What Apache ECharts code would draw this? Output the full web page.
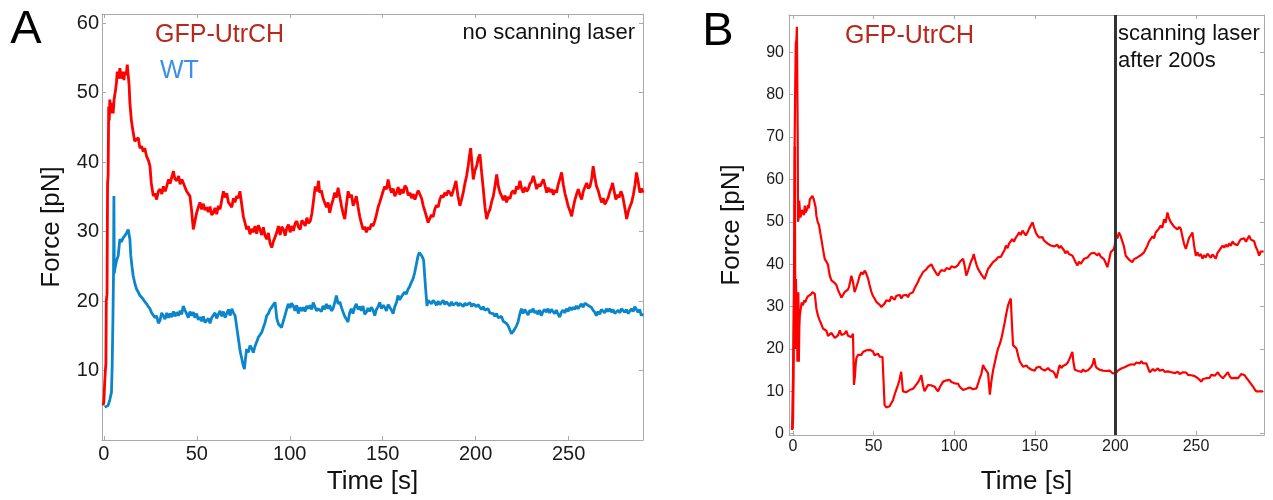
<!DOCTYPE html>
<html>
<head>
<meta charset="utf-8">
<script src="https://cdn.jsdelivr.net/npm/echarts@6/dist/echarts.min.js"></script>
<style>
html,body{margin:0;padding:0;background:#fff;}
#chart{width:1273px;height:500px;}
</style>
</head>
<body>
<div id="chart"></div>
<script>
// ---------- DATA ----------
const xTicksA = [0, 50, 100, 150, 200, 250];
const yTicksA = [10, 20, 30, 40, 50, 60];
const xTicksB = [0, 50, 100, 150, 200, 250];
const yTicksB = [0, 10, 20, 30, 40, 50, 60, 70, 80, 90];
const laserOnTime = 200;

// Panel A, GFP-UtrCH (red): [time s, force pN]
const redA = [[-0.4,5],[0,5.5],[0.4,8],[0.8,10],[1.1,11],[1.3,20],[1.7,21],[2.0,37],[2.3,38],[2.6,48],[2.9,46],[3.2,49],[3.6,47],[4.0,48.5],[4.4,48],[5.0,47],[5.5,49],[6.3,50.4],[6.8,51.5],[7.2,53],[8.0,52],[8.6,53.5],[9.5,52],[10.2,53],[10.8,51.8],[11.3,53],[12.0,52.5],[12.6,54],[13.1,54.2],[13.6,51],[14,48.5],[14.8,46],[15.8,44.2],[16.6,43],[17.6,42.8],[18.5,43.5],[19.4,42],[20.3,42.3],[21.2,41.5],[22,42],[23,40.8],[24,40.2],[24.8,39.4],[25.5,37],[26.6,35.1],[27.4,35.5],[28.4,34.6],[29.3,35.8],[30.2,36.1],[31.2,35.4],[32,36.5],[33,35.8],[33.8,36.5],[34.8,37.5],[35.6,36.9],[36.5,37.8],[37.4,38.7],[38.2,37.6],[39.2,37.3],[40.2,38],[41,36.8],[42,37.5],[42.7,37.3],[43.6,36.4],[44.5,35.8],[45.5,36],[46.3,35.1],[47.2,33],[48.1,30.3],[49,31.5],[49.9,32.7],[50.8,33.5],[51.7,34.2],[52.6,33.2],[53.5,34],[54.4,33.1],[55.3,33.5],[56.2,32.8],[57.1,33.6],[58,32.4],[58.9,32.7],[59.8,33.4],[60.7,32.5],[61.6,33.7],[62.5,33.2],[63.4,34.5],[64.3,35.8],[65.2,34.9],[66.1,35.5],[67,34.2],[67.9,34.4],[68.8,33.5],[69.7,34.8],[70.5,34.2],[71.4,35.1],[72.3,34.8],[73.2,35.8],[74.1,34],[75,32.2],[75.9,31.3],[76.8,30.3],[77.7,30.8],[78.6,29.6],[79.5,30.4],[80.4,29.9],[81.3,30.8],[82.2,29.7],[83.1,30.9],[84,30.3],[84.9,29.5],[85.8,30.6],[86.7,29.4],[87.6,28.9],[88.5,29.8],[89.4,28.3],[90.3,27.7],[91.2,28.6],[92.1,29.2],[93,29.9],[93.9,30.8],[94.8,29.5],[95.7,30.7],[96.6,30.3],[97.5,29.4],[98.4,30.5],[99.3,31],[100.2,29.9],[101.1,30.8],[102,30.1],[102.9,31.2],[103.8,31.5],[104.7,30.6],[105.6,30.3],[106.5,31.6],[107.4,31.3],[108.3,30.8],[109.2,32],[110.1,31.2],[111,31.5],[111.9,32.6],[112.8,34.5],[113.7,36.5],[114.6,35.8],[115.5,37.3],[116.1,35.6],[117,35.9],[117.9,34.8],[118.8,34.6],[119.7,33.5],[120.6,34.2],[121.5,32.7],[122.4,33.8],[123.3,34.6],[124.2,35.6],[125.1,34.9],[126,36.3],[126.9,35],[127.8,33.7],[128.7,32.6],[129.6,31.8],[130.5,33.9],[131.4,35.8],[132.3,34.9],[133.2,35.3],[134.1,33.7],[135,34.4],[135.8,35.1],[136.7,33.6],[137.6,32.2],[138.5,31.2],[139.4,30.3],[140.3,30.7],[141.2,29.9],[142.1,30.6],[143,30.3],[143.9,31.1],[144.8,30.8],[145.7,31.5],[146.6,32.4],[147.5,33.5],[148.4,34.2],[149.3,35],[150.2,35.8],[151.1,36.5],[152,36.1],[152.9,37.5],[153.8,36.3],[154.7,35.6],[155.6,36.2],[156.5,35.1],[157.4,35.6],[158.3,36.4],[159.2,35.3],[160.1,36.1],[161,35.5],[161.9,36.6],[162.8,36.3],[163.7,35.2],[164.6,35.6],[165.5,34.8],[166.4,35.4],[167.3,34.6],[168.2,35.3],[169.1,35.9],[170,36.1],[170.9,34.8],[171.8,33.7],[172.6,33],[173.5,32.2],[174.4,31.3],[175.3,31.5],[176.2,32.4],[177.1,32.1],[178,33.2],[178.9,33.8],[179.8,33.5],[180.7,34.6],[181.6,35.2],[182.5,34.9],[183.4,35.6],[184.3,35.2],[185.2,35.9],[186.1,35.6],[187,35.1],[187.9,34.9],[188.6,36.5],[189.4,37.3],[190.4,35.2],[191.5,33.7],[192.4,34.6],[193.3,35.6],[194.2,36.9],[195.1,38],[196,39.5],[196.7,41],[197.3,42],[198,39.8],[198.7,37.5],[199.6,38.8],[200.5,39.4],[201.4,40.6],[202.3,41.1],[203.2,38.5],[204.1,36.1],[205,33.5],[205.9,31.8],[206.8,32.7],[207.7,33.2],[208.6,34.3],[209.5,35.1],[210.4,36.6],[211.3,38.2],[212.2,36.5],[213.1,35.6],[214,35.1],[214.9,34.5],[215.8,35.2],[216.6,34.2],[217.5,35],[218.4,34.7],[219.3,35.6],[220.2,35.9],[221.1,35.4],[222,36.5],[222.9,36.1],[223.8,37.3],[224.7,36.2],[225.6,35.6],[226.5,36.4],[227.4,35.8],[228.3,36.1],[229.2,36.9],[230.1,37.2],[231,38],[231.9,37.1],[232.8,36.1],[233.7,36.8],[234.6,36.5],[235.5,37],[236.4,37.5],[237.3,36.6],[238.2,35.6],[239.1,36.3],[240,35.7],[240.9,36.1],[241.8,35.3],[242.7,36],[243.5,35.6],[244.4,36.8],[245.3,37.6],[246.2,38.5],[247.1,36.8],[248,35.5],[248.9,34.6],[249.8,33.6],[250.7,33],[251.6,32.2],[252.5,33.5],[253.4,34.6],[254.3,35.4],[255.2,36.1],[256.1,35.2],[257,34.6],[257.9,35.8],[258.8,36.4],[259.7,37],[260.6,36.2],[261.5,36.5],[262.4,37.6],[263.2,39.4],[264.1,37.8],[265,36.5],[265.9,35.9],[266.8,35],[267.7,34.2],[268.6,34.8],[269.5,33.9],[270.4,33.7],[271.3,34.9],[272.2,35.8],[273.1,36.4],[273.6,37],[274.5,35.8],[275.4,34.6],[276.3,35.3],[277.2,34.9],[278.1,35.8],[279,35.2],[279.9,33.9],[280.8,32.5],[281.2,31.8],[282.1,32.9],[283,33.6],[283.9,34.2],[284.8,35.3],[285.7,36.7],[286.5,38.5],[287.4,37.2],[288.3,35.6],[289.2,36.2],[290,35.6]];

// Panel A, WT (blue)
const blueA = [[0.5,4.7],[1.2,4.5],[2.3,5],[3.2,5.8],[4.1,6.9],[4.5,11],[4.9,17.9],[5.2,24],[5.4,35.1],[5.6,24],[5.9,24.6],[6.8,25.8],[7.7,26.5],[8.6,28.9],[9.4,28.5],[10.4,29.1],[11.3,29.4],[12.2,29.8],[13.1,30.3],[14,28.9],[14.5,26.5],[15.2,24.8],[15.8,23.6],[16.7,22.5],[17.6,21.7],[18.5,21.3],[19.4,20.8],[20.3,20.9],[21.1,20.3],[22,19.9],[23,19.6],[23.9,19.2],[24.8,18.9],[25.7,18.3],[26.6,18.4],[27.5,17.6],[28.4,17.9],[29.3,16.8],[30.2,17.2],[31.1,18.3],[32,17.9],[32.9,17.4],[33.8,18.3],[34.7,17.6],[35.6,18.2],[36.5,17.7],[37.4,18.5],[38.3,17.8],[39.2,18.4],[40.1,17.9],[41,18.6],[41.9,18.1],[42.7,19.3],[43.6,18.7],[44.5,18.2],[45.4,17.6],[46.3,18.5],[47.2,17.9],[48.1,18.4],[49,17.6],[49.9,18.2],[50.8,17.3],[51.7,17.7],[52.6,17.1],[53.5,17.8],[54.4,16.9],[55.3,16.7],[56.2,17.5],[57.1,16.8],[58,17.6],[58.9,17.4],[59.8,18.3],[60.7,17.5],[61.6,18.1],[62.5,18.6],[63.4,17.8],[64.3,18.5],[65.2,17.6],[66.1,18.2],[67,18.8],[67.9,17.9],[68.8,18.9],[69.7,18.3],[70.6,17.9],[71.5,16.2],[72.4,14.5],[73.3,12.8],[74.2,11.7],[74.9,10.8],[75.6,10.2],[76.2,11.8],[76.8,13.1],[77.7,12.6],[78.6,13.6],[79.5,13.2],[80.4,12.6],[81.3,13.5],[82.2,14.1],[83.1,14.8],[84,14.6],[84.9,15.5],[85.8,16.2],[86.7,16.9],[87.6,17.9],[88.5,18.2],[89.4,18.8],[90.3,19.1],[91.2,19.5],[92.1,19.8],[93,17.5],[93.9,16.7],[94.8,16.9],[95.6,16.2],[96.5,17.1],[97.4,17.9],[98.3,18.8],[99.2,19.6],[100.1,19],[101,19.7],[101.9,19.3],[102.8,18.6],[103.7,19.4],[104.6,18.2],[105.5,19.1],[106.4,18.6],[107.3,19.1],[108.2,18.5],[109.1,19.3],[110,18.9],[110.9,19.4],[111.8,18.8],[112.6,19.8],[113.5,19.2],[114.4,18.6],[115.3,18.9],[116.1,19.1],[117,18.5],[117.9,19.3],[118.8,18.8],[119.7,19.6],[120.6,18.9],[121.5,19.4],[122.4,18.6],[123.3,18.9],[124.2,19.8],[125.1,20.8],[126,19.6],[126.9,19.9],[127.8,19.1],[128.7,18.4],[129.6,17.8],[130.4,17.4],[131.3,17],[132.2,18.3],[133.1,18.9],[134,18.2],[134.9,19.1],[135.8,19.6],[136.7,18.8],[137.6,19.2],[138.5,18.6],[139.4,19.3],[140.3,18.1],[141.2,18.4],[142.1,19],[143,18.5],[143.9,19.1],[144.8,18.7],[145.7,17.9],[146.6,18.8],[147.5,19.2],[148.4,19.8],[149.3,18.9],[150.2,19.4],[151.1,19.1],[152,18.6],[152.9,19.5],[153.8,19.3],[154.7,18.7],[155.6,18.2],[156.5,19.2],[157.4,19.8],[158.2,20.8],[159.1,20.2],[160,20.6],[160.9,20.8],[161.8,21.3],[162.7,21],[163.6,21.7],[164.5,22.1],[165.4,22.7],[166.3,23.2],[167.2,24.1],[168.1,25.3],[169,26.5],[169.7,27],[170.4,27.2],[171.2,26.4],[172,25.9],[172.6,23.5],[173.1,21.7],[173.8,19.3],[174.5,20.1],[175.3,20.3],[176.2,19.6],[177.1,20.1],[178,19.8],[178.9,19.4],[179.8,20],[180.7,19.5],[181.6,19.6],[182.5,20.1],[183.4,19.5],[184.3,19.9],[185.2,19.8],[186.1,19.3],[187,19.9],[187.9,19.4],[188.8,19.3],[189.7,19.8],[190.6,19.3],[191.5,19.7],[192.4,19.6],[193.3,19.2],[194.2,19.7],[195.1,19.4],[196,19.3],[196.9,19.8],[197.8,19.2],[198.7,19.6],[199.5,19.6],[200.4,19.2],[201.3,19.5],[202.2,19.1],[203.1,18.8],[204,19.2],[204.9,18.7],[205.8,18.6],[206.7,18.9],[207.6,18.3],[208.5,18.5],[209.4,18.2],[210.3,17.8],[211.2,18.2],[212.1,17.6],[213,17.4],[213.9,17.8],[214.8,17.1],[215.6,17.2],[216.5,16.8],[217.4,16.5],[218.3,15.9],[219.2,15.3],[220.1,15.6],[221,15.8],[221.9,16.4],[222.8,17],[223.7,18.1],[224.6,18.9],[225.5,18.2],[226.4,18.8],[227.3,18.6],[228.2,18],[229.1,18.7],[230,18.4],[230.9,18.9],[231.8,18.3],[232.6,18.6],[233.5,18.1],[234.4,18.7],[235.3,17.9],[236.2,18.5],[237.1,18.8],[238,18.4],[238.9,18.9],[239.8,18.3],[240.7,18.8],[241.6,18.6],[242.5,18.2],[243.4,18.7],[244.3,18.1],[245.2,17.7],[246.1,18.4],[247,18.7],[247.9,18.3],[248.8,18.9],[249.7,18.5],[250.6,19.1],[251.5,18.7],[252.4,19.1],[253.3,18.8],[254.2,19.3],[255.1,18.9],[256,19.3],[256.9,19.6],[257.8,19.1],[258.7,19.7],[259.5,19.8],[260.4,19.4],[261.3,19.6],[262.2,19.1],[263.1,18.7],[264,18.4],[264.9,17.9],[265.8,18.5],[266.7,18.1],[267.6,18.8],[268.5,18.6],[269.4,18.3],[270.3,18.9],[271.2,18.5],[272.1,18.9],[273,18.4],[273.9,18.8],[274.8,18.2],[275.7,18.2],[276.6,18.7],[277.5,18.3],[278.4,18.9],[279.3,18.9],[280.2,18.4],[281.1,18.8],[282,18.2],[282.9,18.4],[283.8,18.9],[284.7,18.5],[285.6,19.2],[286.4,19.1],[287.3,18.4],[288.2,18.8],[289.1,17.9],[290,18.2]];

// Panel B, upper trace
const upperB = [[-0.6,0.9],[0,13.8],[0.3,25],[0.6,37.3],[0.8,50],[1,68.6],[1.3,80],[1.7,92.1],[2.1,93],[2.4,96],[2.7,96.4],[2.9,70],[3.1,50],[3.5,51],[3.8,55],[4.2,55.3],[4.6,51],[5.2,51.4],[5.7,52.8],[6.2,52.4],[6.8,51.6],[7.3,53.8],[7.8,52.2],[8.3,51.9],[8.8,53],[9.3,54],[9.8,53.2],[10.4,55.3],[11.2,55.6],[12,56.1],[12.8,55.4],[13.5,55.7],[14,53.5],[14.5,51.4],[15.3,50],[16.2,49.1],[16.9,47.4],[17.6,45.9],[18.6,43.5],[19.7,41.2],[20.7,40.6],[21.7,39.9],[22.2,38.5],[22.8,37.3],[23.8,36.2],[24.8,35.8],[25.8,35.6],[26.9,35.1],[28,33.8],[29,33],[30,32.1],[31,32.5],[32,33.4],[33.1,33],[34,34],[34.7,34.6],[35.5,36],[36.2,37.3],[37.2,35.8],[38.2,33.4],[39.2,34.5],[40.3,35.8],[41.3,37.2],[42.4,38.1],[43.4,37.6],[44.4,38.5],[45.2,38],[45.9,37.3],[46.7,36.4],[47.5,35.1],[48.5,33.6],[49.6,32.5],[50.6,31.9],[51.7,31.1],[52.7,30.8],[53.8,30.4],[54.8,29.9],[55.8,30.3],[56.8,30.7],[57.9,31.5],[58.9,31.8],[60,31.3],[61,32.4],[62,32.2],[63,31.6],[64,32.5],[65.1,32.2],[66.1,32.8],[67.2,31.9],[68.2,32.6],[69.2,32.3],[70.3,32.8],[71.3,32.2],[72.3,33],[73.4,32.9],[74.4,33.4],[75.4,34.3],[76.5,35.1],[77.5,35.8],[78.5,36.7],[79.6,37.4],[80.6,38.1],[81.6,38.5],[82.7,38.8],[83.7,39.3],[84.7,39.6],[85.8,40],[86.8,39.2],[87.9,38.9],[88.9,37.8],[90,37.3],[91,38.1],[92,38.6],[93.1,38.9],[94.1,38.4],[95.2,39.1],[96.2,39.3],[97.2,38.8],[98.3,39.5],[99.3,39.7],[100.3,39.2],[101.3,38.9],[102.4,39.8],[103.4,40.5],[104.4,40.9],[105.5,41.3],[106.5,39.6],[107.5,37.3],[108.6,38.5],[109.6,39.7],[110.6,40.8],[111.6,41.6],[112.1,42.4],[113,41],[113.9,39.8],[114.8,38.9],[115.8,38.5],[116.8,37.6],[117.9,37],[118.9,36.5],[120,37.8],[121,38.9],[122,39.4],[123,39.8],[124.1,40.5],[125.1,40.2],[126.1,41.1],[127.1,41.6],[128.1,42],[129.1,41.8],[130.1,42.6],[131.1,43.2],[132.1,44.4],[133.1,43.8],[134.1,44.9],[135.1,45.2],[136,45.9],[137,45.3],[138.1,46.2],[139.2,46.8],[140.3,47.5],[141.3,46.9],[142.4,47.9],[143.4,48.3],[144.4,46.8],[145.5,47.5],[146.5,48.4],[147.5,49.1],[148.6,49.9],[149.6,48.6],[150.6,47.5],[151.6,46.8],[152.7,46.3],[153.7,45.9],[154.7,46.4],[155.7,45.6],[156.8,45.4],[157.8,44.9],[158.9,45.1],[159.9,44.4],[160.9,44.8],[162,44.2],[163,44],[164,44.6],[165.1,43.8],[166.1,44.3],[167.2,44],[168.1,43.3],[169,42.6],[170.1,43.1],[171.2,42.4],[172.3,42.8],[173.4,42],[174.4,41.2],[175.4,40.4],[176.4,39.7],[177.4,40.6],[178.5,40.1],[179.5,40.5],[180.6,41.3],[181.6,40.9],[182.7,41.6],[183.7,42],[184.7,42.5],[185.7,42.1],[186.8,42.7],[187.8,42.8],[188.8,42.1],[189.8,42.6],[190.9,41.8],[191.9,42],[192.9,41.2],[194,40.3],[195,39.3],[196,40.8],[197.1,42.8],[198.1,43.1],[199.1,43.6],[199.6,44.5],[200.2,46.7],[201.2,46.1],[202.2,47.5],[203.3,46.6],[204.3,45.4],[205.3,44.2],[206.4,42],[207.4,41.7],[208.4,41.1],[209.5,41.5],[210.5,40.5],[211.6,41.2],[212.6,40.8],[213.6,41.6],[214.7,41.3],[215.7,42.1],[216.7,42.4],[217.8,42.8],[218.8,43.6],[219.8,44.3],[220.9,45.4],[221.9,45.9],[223,46.6],[224,46.1],[225,47.5],[226,47.1],[227,48.4],[228.1,49.1],[229.1,48.6],[230.2,50.6],[231.2,49.8],[232.3,52.2],[233.3,50.8],[234.4,49.9],[235.4,50.3],[236.5,48.8],[237.5,49.1],[238.5,48.2],[239.6,48.8],[240.6,48.3],[241.6,46.5],[242.6,44.8],[243.7,43.6],[244.7,44.9],[245.7,46.2],[246.8,46.8],[247.8,47.5],[248.8,44.5],[249.9,42],[250.9,42.8],[251.9,41.9],[253,42.4],[254,41.3],[255,42.1],[256.1,41.6],[257.1,42.5],[258.2,42],[259.2,41.5],[260.2,42.3],[261.3,41.8],[262.3,41.3],[263.3,42.6],[264.4,43.2],[265.4,43.8],[266.5,44.4],[267.5,43.9],[268.5,44.6],[269.6,44.1],[270.6,44.9],[271.6,44.3],[272.7,45.4],[273.7,44.8],[274.7,45.2],[275.8,44.5],[276.8,45.3],[277.9,45.9],[278.9,45.5],[279.9,46.1],[281,45.3],[282,46],[283,46.7],[284.1,45.8],[285.1,46.2],[286.1,45.4],[287.1,44.1],[288.2,43.2],[289.2,42],[290.2,43],[291.3,42.8],[292,43]];

// Panel B, lower trace
const lowerB = [[-0.3,1],[0,3],[0.3,12],[0.6,28],[0.9,36],[1.1,67.8],[1.3,40],[1.5,20],[1.8,36.5],[2.1,30],[2.4,27.9],[2.7,17],[3,30],[3.3,33.4],[3.6,17],[3.9,25],[4.2,27.9],[4.8,29.5],[5.4,31],[6.2,30.3],[7,31.5],[7.6,31],[8.3,31.8],[9.2,32.4],[10.4,32.6],[11.2,32.9],[12,33.4],[12.8,33.1],[13.5,33],[14,31.2],[14.5,29.5],[15.5,27.8],[16.5,26.8],[17.5,25.9],[18.6,24.8],[19.6,24.9],[20.7,24.3],[21.7,23.1],[22.8,22.9],[23.8,23.8],[24.8,23.6],[25.9,22.6],[26.9,22.5],[27.9,23.2],[29,24.4],[30,23.3],[31,22.9],[32,23.6],[33.1,24.3],[34.1,23.1],[35.2,23.5],[36.2,22.8],[37.2,23.6],[37.5,18],[37.8,11.5],[38.4,13.6],[38.9,16.5],[39.3,17.8],[40.3,18.6],[41.4,18.9],[42.4,18.6],[43.4,19.3],[44.5,19.1],[45.5,19.7],[46.5,19.3],[47.6,19.8],[48.6,20.1],[49.6,19.4],[50.6,18.5],[51.7,18.3],[52.7,18.9],[53.7,18.2],[54.8,17.8],[55.5,18.1],[56.2,17.8],[56.8,6.8],[57.9,6.2],[58.9,6],[59.9,6.5],[60.9,6.8],[62,7.9],[63,9.2],[64.1,10.4],[65.1,11.5],[66.1,12.8],[67.1,14.6],[67.6,12.5],[68.2,10],[69.2,10.2],[70.3,9.8],[71.3,9.6],[72.3,10.3],[73.4,10],[74.4,10.6],[75.5,11.1],[76.5,11.5],[77.5,12.1],[78.6,12.9],[79.6,13.8],[80.6,11.5],[81.6,10],[82.7,10.8],[83.7,11.5],[84.8,11.8],[85.8,11.4],[86.8,11.6],[87.9,11.1],[88.9,10.5],[90,10],[91,10.9],[92,11.6],[93.1,12.3],[94.1,12],[95.2,12.6],[96.2,12.4],[97.2,12.7],[98.2,12.2],[99.3,12.4],[100.3,11.9],[101.3,11.5],[102.4,11.8],[103.4,11.1],[104.4,10.7],[105.5,10.3],[106.5,10],[107.6,10.6],[108.6,10.4],[109.7,10.9],[110.7,11.1],[111.7,10.5],[112.8,10.9],[113.8,10.7],[114.8,11.8],[115.9,13.2],[116.9,14.2],[117.9,16.2],[118.9,15.4],[120,15.8],[121,14.3],[122.1,9.2],[123.1,12.5],[124.1,14.9],[125.2,16.8],[126.2,18.6],[127.2,20.1],[128.3,21.2],[129.3,22.5],[130.3,24.3],[131.4,26.4],[132.4,28.5],[133.4,30.3],[134.3,31.2],[135.1,31.9],[135.8,26],[136.5,20.9],[137.6,20.6],[138.6,20.1],[139.7,18.4],[140.7,17],[141.7,16.4],[142.8,15.8],[143.8,15.4],[144.8,16.1],[145.9,15.6],[146.9,15.8],[148,15.1],[149,15.5],[150,14.9],[151,15.6],[152.1,15.2],[153.1,15.8],[154.1,15.3],[155.2,15.6],[156.2,14.9],[157.2,15.1],[158.2,15.5],[159.3,15],[160.3,15.4],[161.3,14.7],[162.4,14.1],[163.4,13.1],[164.4,14.6],[165.4,16.2],[166.5,15.5],[167.5,16],[168.6,15.8],[169.6,16.4],[170.6,16.9],[171.7,17.8],[172.5,18.6],[173.3,19.3],[174,16.8],[174.8,15.1],[175.8,15.4],[176.9,14.8],[177.9,14.9],[179,14.6],[180,15.2],[181,14.7],[182,14.5],[183,15],[184.1,15.3],[185.1,15.8],[186,16.5],[186.8,17.8],[187.6,16.2],[188.2,15.6],[189.2,15.4],[190.2,15.1],[191.2,15.4],[192.3,14.9],[193.3,15.1],[194.3,14.8],[195.4,14.5],[196.4,14.9],[197.5,14.5],[198.5,14.2],[199.5,13.8],[200.5,14.4],[201.6,14.9],[202.6,15.1],[203.6,15.4],[204.7,15.2],[205.7,15.7],[206.8,15.8],[207.8,16.1],[208.8,15.9],[209.9,16.4],[210.9,16.6],[211.9,16.3],[213,16.8],[214,17],[215.1,16.6],[216.1,17.1],[217.1,16.6],[218.1,16.9],[219.2,16.6],[220.2,15.6],[221.3,14.5],[222.3,14.9],[223.3,15.3],[224.4,14.8],[225.4,15.1],[226.4,15.4],[227.4,14.9],[228.5,15.2],[229.5,15.1],[230.6,14.6],[231.6,15],[232.6,14.7],[233.7,14.9],[234.7,14.5],[235.7,14.7],[236.8,14.3],[237.8,14.2],[238.8,14.6],[239.9,14.1],[240.9,14.5],[241.9,14.5],[243,14.1],[244,14.4],[245,13.9],[246.1,14.2],[247.1,13.8],[248.1,14.1],[249.2,13.6],[250.2,13.8],[251.2,13.1],[252.3,12.7],[253.3,12.3],[254.3,12.9],[255.4,12.6],[256.4,13.1],[257.4,13.5],[258.5,13.2],[259.5,13.9],[260.5,14.2],[261.6,13.7],[262.6,14.1],[263.6,14.5],[264.7,13.8],[265.7,13.5],[266.7,13.1],[267.8,13.6],[268.8,14],[269.8,14.5],[270.9,13.6],[271.9,13.1],[272.9,12.7],[274,13.2],[275,12.9],[276,13.1],[277.1,13.6],[278.1,14.1],[279.2,14.5],[280.2,13.8],[281.2,13.2],[282.3,12.7],[283.3,12.2],[284.3,11.8],[285.4,11.1],[286.4,10.5],[287.4,10],[288.5,9.8],[289.5,10],[290.5,9.9],[291.6,10],[292,10]];

// ---------- CHART ----------
const FONT = '"Liberation Sans", Arial, Helvetica, sans-serif';
const FRAME = '#a9a9a9';
const chart = echarts.init(document.getElementById('chart'), null, {renderer: 'canvas'});

function frameAxis(gridIndex, pos, min, max, ticks, labelOpts, nameOpts) {
  const ax = {
    gridIndex, type: 'value', position: pos, min, max,
    axisLine: {show: true, onZero: false, lineStyle: {color: FRAME, width: 1}},
    axisTick: {show: true, inside: true, length: 4, customValues: ticks, lineStyle: {color: FRAME, width: 1}},
    splitLine: {show: false},
    axisLabel: labelOpts ? Object.assign({show: true, customValues: ticks, color: '#1a1a1a', fontFamily: FONT}, labelOpts) : {show: false}
  };
  if (nameOpts) Object.assign(ax, nameOpts);
  return ax;
}

const option = {
  animation: false,
  backgroundColor: '#ffffff',
  grid: [
    {left: 102, top: 14, width: 541, height: 427},
    {left: 789, top: 15, width: 475, height: 422}
  ],
  xAxis: [
    frameAxis(0, 'bottom', -1, 290, xTicksA, {fontSize: 20, margin: 4},
      {name: 'Time [s]', nameLocation: 'middle', nameGap: 25, nameTextStyle: {fontSize: 26, color: '#111', fontFamily: FONT}}),
    frameAxis(0, 'top', -1, 290, xTicksA, null),
    frameAxis(1, 'bottom', -2.5, 292.2, xTicksB, {fontSize: 16, margin: 4},
      {name: 'Time [s]', nameLocation: 'middle', nameGap: 34, nameTextStyle: {fontSize: 26, color: '#111', fontFamily: FONT}}),
    frameAxis(1, 'top', -2.5, 292.2, xTicksB, null)
  ],
  yAxis: [
    frameAxis(0, 'left', 0, 61.3, yTicksA, {fontSize: 20, margin: 3},
      {name: 'Force [pN]', nameLocation: 'middle', nameGap: 37, nameRotate: 90, nameTextStyle: {fontSize: 26, color: '#111', fontFamily: FONT}}),
    frameAxis(0, 'right', 0, 61.3, yTicksA, null),
    frameAxis(1, 'left', -0.3, 98.8, yTicksB, {fontSize: 16, margin: 5},
      {name: 'Force [pN]', nameLocation: 'middle', nameGap: 44, nameRotate: 90, nameTextStyle: {fontSize: 26, color: '#111', fontFamily: FONT}}),
    frameAxis(1, 'right', -0.3, 98.8, yTicksB, null)
  ],
  series: [
    {type: 'line', name: 'GFP-UtrCH A', xAxisIndex: 0, yAxisIndex: 0, data: redA, showSymbol: false, symbol: 'none',
      lineStyle: {color: '#ff0000', width: 2.8}, z: 3},
    {type: 'line', name: 'WT', xAxisIndex: 0, yAxisIndex: 0, data: blueA, showSymbol: false, symbol: 'none',
      lineStyle: {color: '#0b86cb', width: 2.8}, z: 4},
    {type: 'line', name: 'upper B', xAxisIndex: 2, yAxisIndex: 2, data: upperB, showSymbol: false, symbol: 'none',
      lineStyle: {color: '#ff0000', width: 2.2}, z: 3},
    {type: 'line', name: 'lower B', xAxisIndex: 2, yAxisIndex: 2, data: lowerB, showSymbol: false, symbol: 'none',
      lineStyle: {color: '#ff0000', width: 2.2}, z: 3,
      markLine: {silent: true, symbol: ['none', 'none'], label: {show: false},
        lineStyle: {color: '#333333', width: 3, type: 'solid'}, data: [{xAxis: laserOnTime}], z: 5}}
  ],
  graphic: [
    {type: 'text', x: 26, y: 30, style: {text: 'A', font: '47px ' + FONT, fill: '#000', textAlign: 'center', textVerticalAlign: 'middle', verticalAlign: 'middle'}},
    {type: 'text', x: 718, y: 32, style: {text: 'B', font: '47px ' + FONT, fill: '#000', textAlign: 'center', textVerticalAlign: 'middle', verticalAlign: 'middle'}},
    {type: 'text', x: 155, y: 35, style: {text: 'GFP-UtrCH', font: '25px ' + FONT, fill: '#b8281c', textAlign: 'left', textVerticalAlign: 'middle', verticalAlign: 'middle'}},
    {type: 'text', x: 160, y: 71, style: {text: 'WT', font: '25px ' + FONT, fill: '#3b8fe9', textAlign: 'left', textVerticalAlign: 'middle', verticalAlign: 'middle'}},
    {type: 'text', x: 635, y: 33, style: {text: 'no scanning laser', font: '22px ' + FONT, fill: '#111', textAlign: 'right', textVerticalAlign: 'middle', verticalAlign: 'middle'}},
    {type: 'text', x: 845, y: 36, style: {text: 'GFP-UtrCH', font: '25px ' + FONT, fill: '#b8281c', textAlign: 'left', textVerticalAlign: 'middle', verticalAlign: 'middle'}},
    {type: 'text', x: 1118, y: 34, style: {text: 'scanning laser', font: '22px ' + FONT, fill: '#111', textAlign: 'left', textVerticalAlign: 'middle', verticalAlign: 'middle'}},
    {type: 'text', x: 1118, y: 61, style: {text: 'after 200s', font: '22px ' + FONT, fill: '#111', textAlign: 'left', textVerticalAlign: 'middle', verticalAlign: 'middle'}}
  ]
};
chart.setOption(option);
</script>
</body>
</html>
